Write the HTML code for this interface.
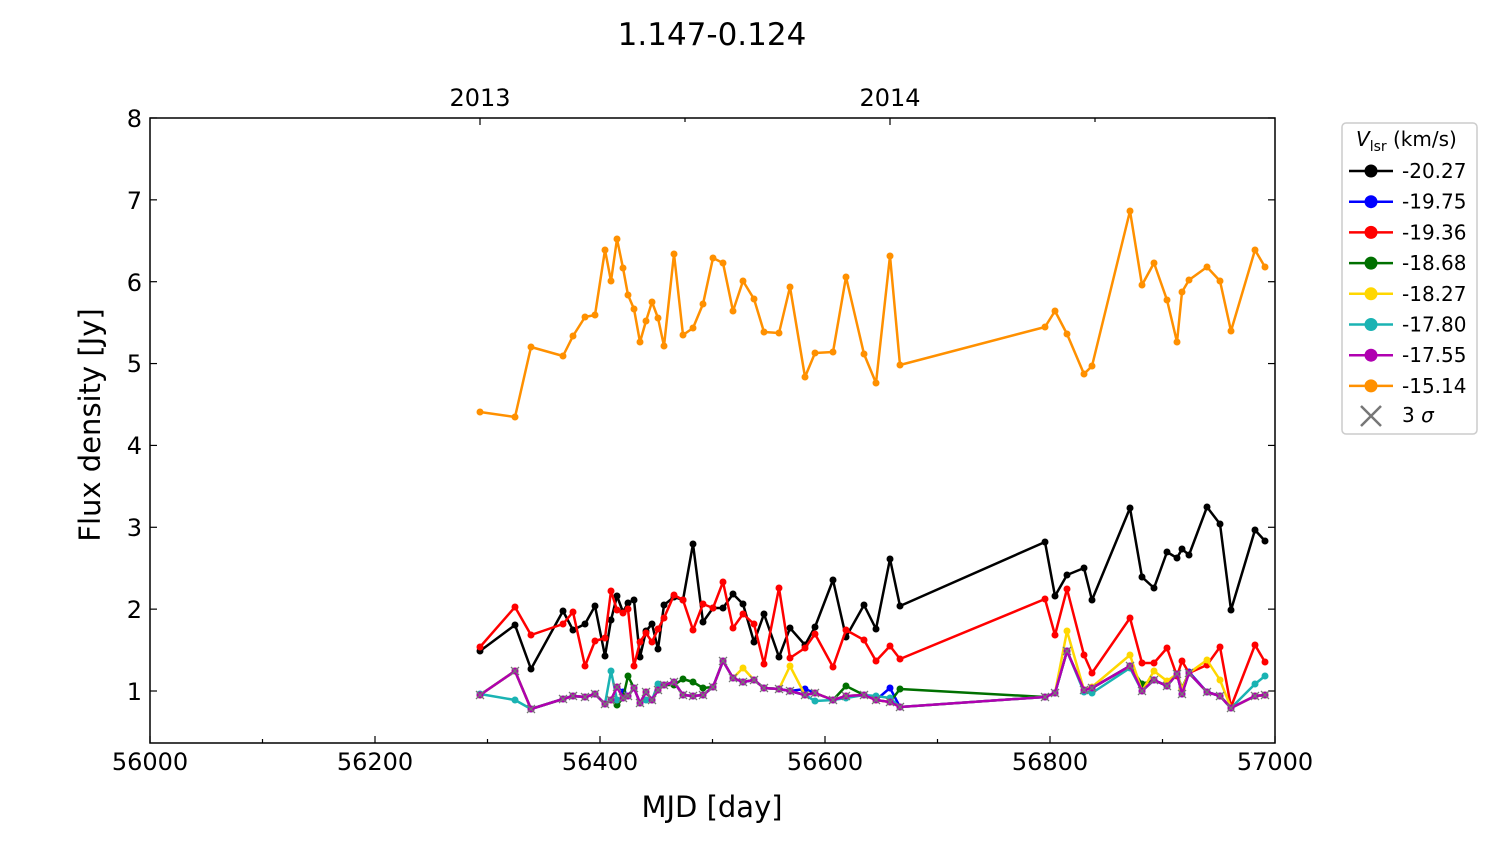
<!DOCTYPE html>
<html><head><meta charset="utf-8"><style>
body{margin:0;background:#fff;}
svg text{font-family:"DejaVu Sans","Liberation Sans",sans-serif;fill:#000;}
</style></head><body>
<svg id="s" width="1500" height="844" xmlns="http://www.w3.org/2000/svg">
<rect width="1500" height="844" fill="#fff"/>
<text x="712" y="45" font-size="31" text-anchor="middle">1.147-0.124</text>
<text x="480" y="106" font-size="24" text-anchor="middle">2013</text>
<text x="890" y="106" font-size="24" text-anchor="middle">2014</text>
<g id="ticks" stroke="#000" stroke-width="1.2"></g>
<g id="data"></g>
<rect x="150" y="118" width="1125" height="625" fill="none" stroke="#000" stroke-width="1.5"/>
<g font-size="24" text-anchor="middle">
<text x="150" y="770">56000</text><text x="375" y="770">56200</text><text x="600" y="770">56400</text>
<text x="825" y="770">56600</text><text x="1050" y="770">56800</text><text x="1275" y="770">57000</text>
</g>
<g font-size="24" text-anchor="end">
<text x="142" y="700">1</text><text x="142" y="618">2</text><text x="142" y="536">3</text><text x="142" y="454">4</text>
<text x="142" y="372">5</text><text x="142" y="291">6</text><text x="142" y="209">7</text><text x="142" y="127">8</text>
</g>
<text x="712" y="817" font-size="29" text-anchor="middle">MJD [day]</text>
<text transform="translate(100,425) rotate(-90)" font-size="29" text-anchor="middle">Flux density [Jy]</text>
<rect x="1342" y="123" width="135" height="311" rx="4" fill="#fff" stroke="#ccc" stroke-width="1.5"/>
<text x="1356" y="146" font-size="20"><tspan font-style="italic">V</tspan><tspan font-size="14" dy="5">lsr</tspan><tspan dy="-5"> (km/s)</tspan></text>
<g id="leg"></g>
</svg>
<script>
const s=document.getElementById('s'),NS='http://www.w3.org/2000/svg';
function el(p,t,a){const e=document.createElementNS(NS,t);for(const k in a)e.setAttribute(k,a[k]);p.appendChild(e);return e;}
const T=document.getElementById('ticks');
for(let d=0;d<=1000;d+=100){const x=150+d*1.125;const L=d%200==0?7:4;
 el(T,'line',{x1:x,y1:743,x2:x,y2:743-L});}
for(let v=1;v<=8;v++){const y=691-(v-1)*81.86;el(T,'line',{x1:150,y1:y,x2:157,y2:y});el(T,'line',{x1:1275,y1:y,x2:1268,y2:y});}
el(T,'line',{x1:480,y1:118,x2:480,y2:125});el(T,'line',{x1:890,y1:118,x2:890,y2:125});
el(T,'line',{x1:685,y1:118,x2:685,y2:122});el(T,'line',{x1:1095,y1:118,x2:1095,y2:122});
const X=[480,515,531,563,573,585,595,605,611,617,623,628,634,640,646,652,658,664,674,683,693,703,713,723,733,743,754,764,779,790,805,815,833,846,864,876,890,900,1045,1055,1067,1084,1092,1130,1142,1154,1167,1177,1182,1189,1207,1220,1231,1255,1265];
const orange=[412,417,347,356,336,317,315,250,281,239,268,295,309,342,321,302,318,346,254,335,328,304,258,263,311,281,299,332,333,287,377,353,352,277,354,383,256,365,327,311,334,374,366,211,285,263,300,342,292,280,267,281,331,250,267];
const black=[651,625,669,611,630,624,606,656,620,596,612,603,600,657,631,624,649,605,597,600,544,622,608,608,594,604,642,614,657,628,645,627,580,637,605,629,559,606,542,596,575,568,600,508,577,588,552,558,549,555,507,524,610,530,541];
const red=[647,607,635,624,612,666,641,638,591,610,613,609,666,642,633,642,629,618,595,600,630,604,608,582,628,614,624,664,588,658,648,634,667,630,640,661,646,659,599,635,589,655,673,618,663,663,648,676,661,673,665,647,707,645,662];
const purple=[695,671,709,699,696,697,694,704,700,687,698,696,688,703,692,700,690,685,682,695,696,695,687,661,678,682,680,688,689,691,695,693,700,696,695,700,702,707,697,693,651,690,688,666,691,680,686,674,694,673,692,696,708,696,695];
function mod(m){const a=purple.slice();for(const k in m)a[X.indexOf(+k)]=m[k];return a;}
const cyan=mod({480:694,515:700,611:671,617:700,658:684,646:700,815:701,846:698,876:696,890:698,1084:692,1092:693,1130:668,1255:684,1265:676});
const green=mod({617:705,628:676,674:685,683:679,693:682,703:688,846:686,900:689,1045:697,1142:684,1182:688});
const yellow=mod({743:668,790:666,1067:631,1130:655,1154:671,1167:681,1207:660,1220:680,1092:687,1182:689});
const blue=mod({623:692,805:689,890:688,1189:672});
const D=document.getElementById('data');
function series(ys,c){let p=X.map((x,i)=>x+','+ys[i]).join(' ');
 el(D,'polyline',{points:p,fill:'none',stroke:c,'stroke-width':2.5,'stroke-linejoin':'round'});
 X.forEach((x,i)=>el(D,'circle',{cx:x,cy:ys[i],r:3.5,fill:c}));}
series(black,'#000');series(blue,'#0000ff');series(red,'#ff0000');series(green,'#007000');
series(yellow,'#ffd700');series(cyan,'#1ab3b3');series(purple,'#b000b0');series(orange,'#ff9000');
X.forEach((x,i)=>{const y=purple[i];el(D,'path',{d:`M${x-4} ${y-4}L${x+4} ${y+4}M${x-4} ${y+4}L${x+4} ${y-4}`,stroke:'#777','stroke-width':1.3});});
const G=document.getElementById('leg');
const items=[['#000','-20.27'],['#0000ff','-19.75'],['#ff0000','-19.36'],['#007000','-18.68'],['#ffd700','-18.27'],['#1ab3b3','-17.80'],['#b000b0','-17.55'],['#ff9000','-15.14']];
items.forEach((it,i)=>{const y=171+i*30.7;
 el(G,'line',{x1:1349,y1:y,x2:1393,y2:y,stroke:it[0],'stroke-width':2.5});
 el(G,'circle',{cx:1371,cy:y,r:6.5,fill:it[0]});
 const t=el(G,'text',{x:1402,y:y+7,'font-size':20});t.textContent=it[1];});
el(G,'path',{d:'M1361 406L1381 426M1361 426L1381 406',stroke:'#777','stroke-width':2.5});
const t=el(G,'text',{x:1402,y:422,'font-size':20});t.innerHTML='3 <tspan font-style="italic">σ</tspan>';
</script>
</body></html>
